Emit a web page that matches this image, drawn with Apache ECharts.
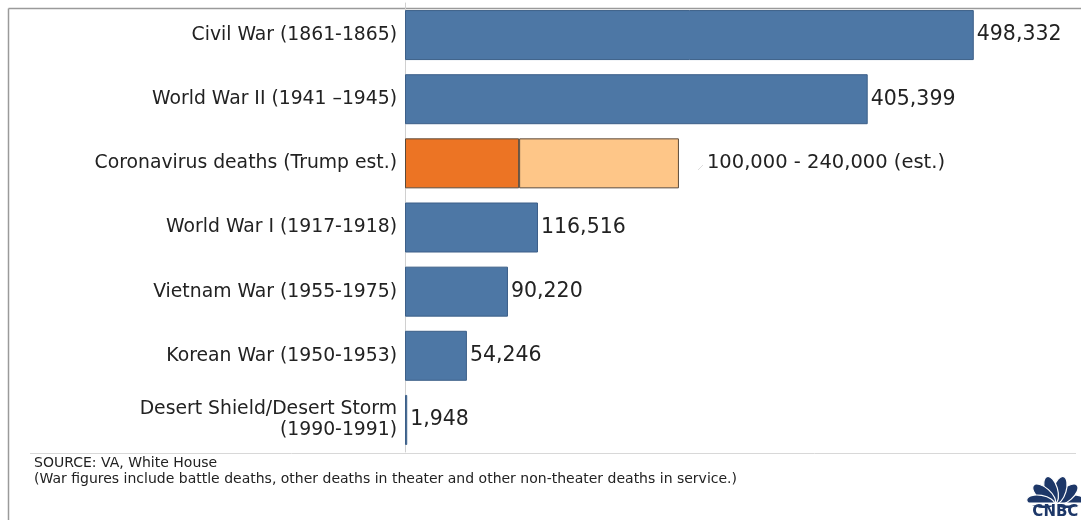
<!DOCTYPE html>
<html>
<head>
<meta charset="utf-8">
<script src="https://cdn.jsdelivr.net/npm/echarts@6/dist/echarts.min.js"></script>
<style>
html,body{margin:0;padding:0;background:#fff;}
#chart{width:1081px;height:520px;}
</style>
</head>
<body>
<div id="chart"></div>
<script>
var categories = [
  "Civil War (1861-1865)",
  "World War II (1941 \u20131945)",
  "Coronavirus deaths (Trump est.)",
  "World War I (1917-1918)",
  "Vietnam War (1955-1975)",
  "Korean War (1950-1953)",
  "Desert Shield/Desert Storm\n(1990-1991)"
];
var warDeaths = [498332, 405399, null, 116516, 90220, 54246, 1948];
var coronaLow = [null, null, 100000, null, null, null, null];
var coronaHigh = [null, null, 240000, null, null, null, null];
var coronaLabel = "100,000 - 240,000 (est.)";
var sourceLines = [
  "SOURCE: VA, White House",
  "(War figures include battle deaths, other deaths in theater and other non-theater deaths in service.)"
];

var coronaExtra = coronaHigh.map(function (v, i) {
  return v == null ? null : v - coronaLow[i];
});

var chart = echarts.init(document.getElementById('chart'), null, {renderer: 'canvas'});
var fontFam = '"DejaVu Sans", "Open Sans", sans-serif';
var navy = '#1d3768';

var petalAngles = [-1.4, -0.85, -0.29, 0.29, 0.85, 1.4];
var logoChildren = petalAngles.map(function (a) {
  return {type: 'ellipse', shape: {cx: 28, cy: 18, rx: 6.5, ry: 14}, rotation: a, originX: 28, originY: 33, style: {fill: navy, stroke: '#ffffff', lineWidth: 1.2}};
});
logoChildren.push({type: 'rect', shape: {x: 0, y: 31, width: 56, height: 3}, style: {fill: '#ffffff'}});
logoChildren.push({type: 'text', x: 28, y: 33, style: {text: 'CNBC', fontSize: 15, fontWeight: 'bold', fontFamily: '"DejaVu Sans", sans-serif', fill: navy, align: 'center'}});

chart.setOption({
  animation: false,
  backgroundColor: '#ffffff',
  grid: {left: 405, right: 14, top: 3, bottom: 68, containLabel: false},
  xAxis: {type: 'value', min: 0, max: 580000, show: false},
  yAxis: {
    type: 'category', data: categories, inverse: true,
    axisLine: {show: true, lineStyle: {color: '#d0d0d0', width: 1}},
    axisTick: {show: false},
    axisLabel: {
      color: '#222', fontSize: 18.8, fontFamily: fontFam, margin: 8,
      lineHeight: 21, align: 'right'
    },
    splitLine: {show: false}
  },
  series: [
    {
      type: 'bar', data: warDeaths, barWidth: 50, barGap: '-100%',
      itemStyle: {color: '#4D77A5', borderColor: '#3C5F88', borderWidth: 1},
      label: {
        show: true, position: 'right', distance: 3,
        color: '#222', fontSize: 20.5, fontFamily: fontFam,
        formatter: function (p) { return p.value == null ? '' : p.value.toLocaleString('en-US'); }
      }
    },
    {
      type: 'bar', data: coronaLow, stack: 'corona', barWidth: 50,
      itemStyle: {color: '#EC7424', borderColor: '#5a4a3a', borderWidth: 1}
    },
    {
      type: 'bar', data: coronaExtra, stack: 'corona', barWidth: 50,
      itemStyle: {color: '#FEC688', borderColor: '#5a4a3a', borderWidth: 1},
      label: {
        show: true, position: 'right', distance: 28,
        color: '#222', fontSize: 19.5, fontFamily: fontFam,
        formatter: function (p) { return p.value == null ? '' : coronaLabel; }
      }
    }
  ],
  graphic: [
    {type: 'line', shape: {x1: 8.5, y1: 8.5, x2: 1081, y2: 8.5}, style: {stroke: '#9a9a9a', lineWidth: 1.5}},
    {type: 'line', shape: {x1: 8.5, y1: 8.5, x2: 8.5, y2: 520}, style: {stroke: '#9a9a9a', lineWidth: 1.5}},
    {type: 'line', shape: {x1: 30, y1: 453.5, x2: 1076, y2: 453.5}, style: {stroke: '#d8d8d8', lineWidth: 1}},
    {type: 'line', shape: {x1: 698, y1: 170, x2: 703, y2: 165}, style: {stroke: '#dddddd', lineWidth: 1}},
    {type: 'text', left: 34, top: 456, style: {text: sourceLines[0], fontSize: 14, fontFamily: fontFam, fill: '#222'}},
    {type: 'text', left: 34, top: 472, style: {text: sourceLines[1], fontSize: 14, fontFamily: fontFam, fill: '#222'}},
    {type: 'group', left: 1025, top: 474, children: logoChildren}
  ]
});
</script>
</body>
</html>
